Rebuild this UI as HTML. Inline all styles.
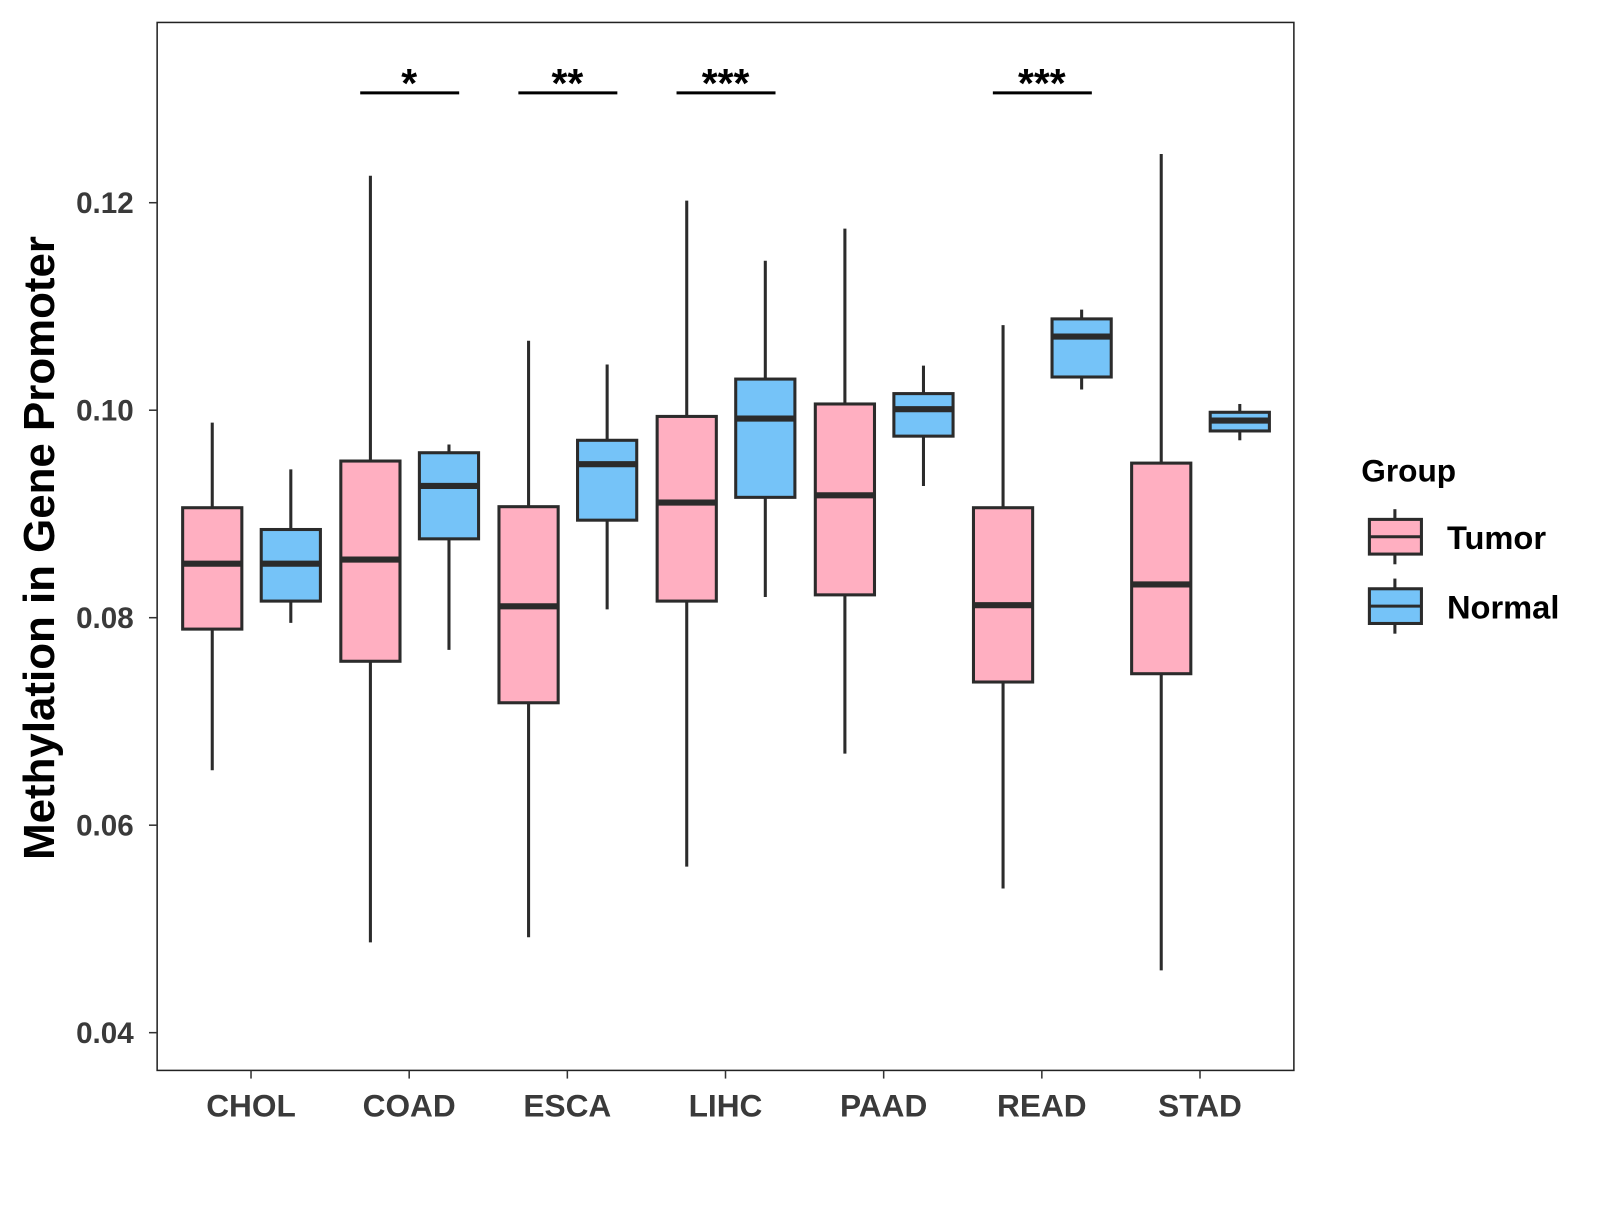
<!DOCTYPE html>
<html><head><meta charset="utf-8"><style>
body{margin:0;background:#fff}
svg text{font-family:"Liberation Sans",Arial,sans-serif;font-weight:bold}
</style></head><body>
<svg id="chart" width="1600" height="1200" viewBox="0 0 1568 1176" xmlns="http://www.w3.org/2000/svg">
<rect x="0" y="0" width="1568" height="1176" fill="#fff"/>
<g id="plot"></g>
<rect x="154" y="22" width="1114" height="1027" fill="none" stroke="#222" stroke-width="1.5"/>
<text x="0" y="0" transform="translate(53,537) rotate(-90)" text-anchor="middle" font-size="43" fill="#000">Methylation in Gene Promoter</text>
<text x="1334" y="472" font-size="31" fill="#000">Group</text>
<g>
<line x1="1367" y1="499" x2="1367" y2="553" stroke="#2b2b2b" stroke-width="3"/>
<rect x="1342" y="509" width="51" height="34" fill="#FFAFC1" stroke="#2b2b2b" stroke-width="3"/>
<line x1="1342" y1="526" x2="1393" y2="526" stroke="#2b2b2b" stroke-width="3"/>
<text x="1418" y="538" font-size="32" fill="#000">Tumor</text>
</g>
<g>
<line x1="1367" y1="567" x2="1367" y2="621" stroke="#2b2b2b" stroke-width="3"/>
<rect x="1342" y="577" width="51" height="34" fill="#75C3F8" stroke="#2b2b2b" stroke-width="3"/>
<line x1="1342" y1="594" x2="1393" y2="594" stroke="#2b2b2b" stroke-width="3"/>
<text x="1418" y="606" font-size="32" fill="#000">Normal</text>
</g>
</svg>
<script>
const categories = ["CHOL","COAD","ESCA","LIHC","PAAD","READ","STAD"];
const tumorLow = [0.0653,0.0487,0.0492,0.0560,0.0669,0.0539,0.0460];
const tumorQ1 = [0.0789,0.0758,0.0718,0.0816,0.0822,0.0738,0.0746];
const tumorMed = [0.0852,0.0856,0.0811,0.0911,0.0918,0.0812,0.0832];
const tumorQ3 = [0.0906,0.0951,0.0907,0.0994,0.1006,0.0906,0.0949];
const tumorHigh = [0.0988,0.1226,0.1067,0.1202,0.1175,0.1082,0.1247];
const normalLow = [0.0795,0.0769,0.0808,0.0820,0.0927,0.1020,0.0971];
const normalQ1 = [0.0816,0.0876,0.0894,0.0916,0.0975,0.1032,0.0980];
const normalMed = [0.0852,0.0927,0.0948,0.0992,0.1001,0.1071,0.0990];
const normalQ3 = [0.0885,0.0959,0.0971,0.1030,0.1016,0.1088,0.0998];
const normalHigh = [0.0943,0.0967,0.1044,0.1144,0.1043,0.1097,0.1006];
const yTicks = [0.04,0.06,0.08,0.10,0.12];
const yTickLabels = ["0.04","0.06","0.08","0.10","0.12"];
const sigLabels = ["","*","**","***","","***",""];

const NS="http://www.w3.org/2000/svg";
const g=document.getElementById('plot');
const svg=document.getElementById('chart');
function y(v){return 402-(v-0.10)*10167;}
function x(i){return 246+i*155;}
function mk(tag,attrs,parent){const e=document.createElementNS(NS,tag);for(const k in attrs)e.setAttribute(k,attrs[k]);(parent||g).appendChild(e);return e;}

yTicks.forEach((t,i)=>{
  const tk=mk('line',{x1:146,x2:154,y1:y(t),y2:y(t),stroke:'#333','stroke-width':1.5},svg);
  
  
  const lb=mk('text',{x:131,y:y(t)+10,'text-anchor':'end','font-size':29,fill:'#3a3a3a'},svg);
  lb.textContent=yTickLabels[i];
  
  
});
categories.forEach((c,i)=>{
  const tk=mk('line',{x1:x(i),x2:x(i),y1:1049,y2:1057,stroke:'#333','stroke-width':1.5},svg);
  
  
  const lb=mk('text',{x:x(i),y:1094,'text-anchor':'middle','font-size':31,fill:'#3a3a3a'},svg);
  lb.textContent=c;
  
  
});
function box(cx,lo,q1,md,q3,hi,fill,name){
  const grp=mk('g',{});
  
  
  mk('line',{x1:cx,x2:cx,y1:y(hi),y2:y(lo),stroke:'#2b2b2b','stroke-width':3},grp);
  mk('rect',{x:cx-29,y:y(q3),width:58,height:y(q1)-y(q3),fill:fill,stroke:'#2b2b2b','stroke-width':3},grp);
  mk('line',{x1:cx-29,x2:cx+29,y1:y(md),y2:y(md),stroke:'#2b2b2b','stroke-width':6},grp);
}
categories.forEach((c,i)=>{
  box(x(i)-38,tumorLow[i],tumorQ1[i],tumorMed[i],tumorQ3[i],tumorHigh[i],'#FFAFC1','box-tumor-'+c.toLowerCase());
  box(x(i)+39,normalLow[i],normalQ1[i],normalMed[i],normalQ3[i],normalHigh[i],'#75C3F8','box-normal-'+c.toLowerCase());
  if(sigLabels[i]){
    const l=mk('line',{x1:x(i)-48,x2:x(i)+49,y1:91,y2:91,stroke:'#000','stroke-width':3});
    
    
    const t=mk('text',{x:x(i),y:95,'text-anchor':'middle','font-size':40,fill:'#000'});
    t.textContent=sigLabels[i];
    
    
  }
});
</script>
</body></html>
